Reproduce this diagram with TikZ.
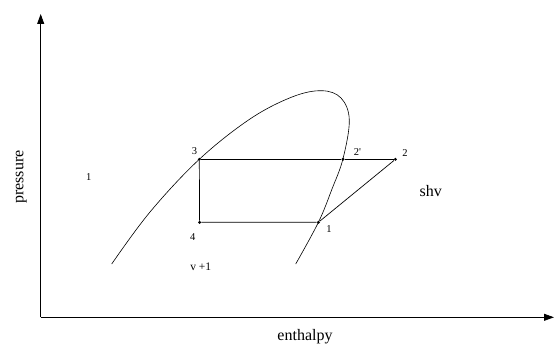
\documentclass[tikz,border=0pt]{standalone}
\usepackage{fontspec}
\setmainfont{Liberation Serif}
\usetikzlibrary{arrows.meta}
\tikzset{
  axis/.style = {line width=0.8pt, -{Triangle[length=10pt,width=7pt]}},
  cycleline/.style = {line width=0.7pt},
  dot/.style = {circle, fill, inner sep=0pt, minimum size=3.2pt},
  ptlabel/.style = {inner sep=0pt, font=\fontsize{10.5}{12}\selectfont},
  bigtext/.style = {inner sep=0pt, font=\fontsize{16}{19}\selectfont}
}
\begin{document}
\begin{tikzpicture}[x=1pt, y=-1pt]
			\useasboundingbox (0,0) rectangle (556,345);
			% axes
			\coordinate (origin) at (40.7,317.3);
			\coordinate (ytop) at (40.7,14);
			\coordinate (xend) at (554,317.3);
			\draw[axis] (origin) -- (ytop);
			\draw[axis] (origin) -- (xend);
			\node[bigtext, rotate=90] (ylabel) at (21.3,177.2) {pressure};
			\node[bigtext] (xlabel) at (305,336.5) {enthalpy};
			
			% saturation dome
			\draw[line width=0.6pt] plot[smooth, tension=0.6] coordinates {
				(111.7,264) (150,212) (199.3,159.3) (250,119) (292,97)
				(321.7,90.7) (341,98) (349.3,120) (343,158.7) (332,189)
				(318.4,222.3) (295.7,264)};
			
			% cycle points
			\node[dot] (p3) at (199.3,159.3) {};
			\node[dot] (p2s) at (343,159.3) {};
			\node[dot] (p2) at (395.4,159.3) {};
			\node[dot] (p4) at (199.6,222.3) {};
			\node[dot] (p1) at (318.4,222.3) {};
			\draw[cycleline] (p3) -- (p2s) -- (p2);
			\draw[cycleline] (p3) -- (p4) -- (p1);
			\draw[cycleline] (p1) -- (p2);
			
			% labels
			\node[ptlabel] (l3) at (194.5,151.5) {3};
			\node[ptlabel] (l2s) at (357.5,152) {2\textquotesingle};
			\node[ptlabel] (l2) at (405,152.7) {2};
			\node[ptlabel] (l1) at (329,229.5) {1};
			\node[ptlabel] (l4) at (192.7,236.7) {4};
			\node[ptlabel, font=\fontsize{11.5}{13}\selectfont] (lvl) at (200.7,266.7) {v +1};
			\node[ptlabel] (lliq) at (88.7,177.3) {1};
			\node[bigtext] (lshv) at (430.8,191.5) {shv};
		\end{tikzpicture}
\end{document}
